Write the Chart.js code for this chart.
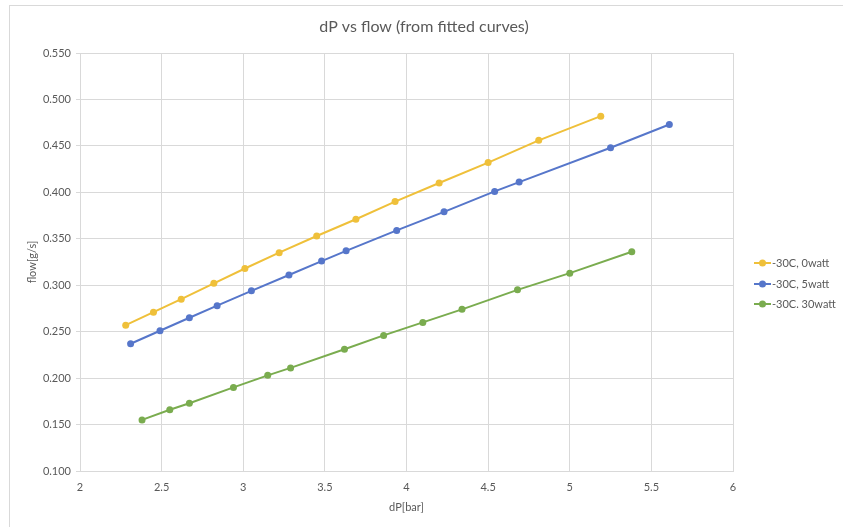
<!DOCTYPE html>
<html>
<head>
<meta charset="utf-8">
<script src="https://cdn.jsdelivr.net/npm/chart.js@4"></script>
<style>
  html, body { margin: 0; padding: 0; background: #fff; }
  #wrap { width: 843px; height: 527px; position: relative; }
</style>
</head>
<body>
<div id="wrap"><canvas id="flowChart"></canvas></div>
<script>
// values
const seriesNames = ['-30C, 0watt', '-30C, 5watt', '-30C. 30watt'];
const seriesColors = ['#EFC03A', '#5676CA', '#7AAC4F'];

const dp0 = [2.28, 2.45, 2.62, 2.82, 3.01, 3.22, 3.45, 3.69, 3.93, 4.20, 4.50, 4.81, 5.19];
const flow0 = [0.257, 0.271, 0.285, 0.302, 0.318, 0.335, 0.353, 0.371, 0.390, 0.410, 0.432, 0.456, 0.482];

const dp5 = [2.31, 2.49, 2.67, 2.84, 3.05, 3.28, 3.48, 3.63, 3.94, 4.23, 4.54, 4.69, 5.25, 5.61];
const flow5 = [0.237, 0.251, 0.265, 0.278, 0.294, 0.311, 0.326, 0.337, 0.359, 0.379, 0.401, 0.411, 0.448, 0.473];

const dp30 = [2.38, 2.55, 2.67, 2.94, 3.15, 3.29, 3.62, 3.86, 4.10, 4.34, 4.68, 5.00, 5.38];
const flow30 = [0.155, 0.166, 0.173, 0.190, 0.203, 0.211, 0.231, 0.246, 0.260, 0.274, 0.295, 0.313, 0.336];

const xTicks = [2, 2.5, 3, 3.5, 4, 4.5, 5, 5.5, 6];
const yTicks = [0.100, 0.150, 0.200, 0.250, 0.300, 0.350, 0.400, 0.450, 0.500, 0.550];

const chartTitle = 'dP vs flow (from fitted curves)';

const toPoints = (xs, ys) => xs.map((x, i) => ({ x: x, y: ys[i] }));
const allX = [dp0, dp5, dp30];
const allY = [flow0, flow5, flow30];

const textColor = '#595959';
const gridColor = '#d9d9d9';
const fontFamily = 'Lato, "Open Sans", sans-serif';

// outer frame, title over the whole frame, legend on the right
const frameAndLegend = {
  id: 'frameAndLegend',
  beforeDraw(chart) {
    const c = chart.ctx;
    c.save();
    c.strokeStyle = gridColor;
    c.lineWidth = 1;
    c.strokeRect(9.5, 5.5, 900, 600);
    c.restore();
  },
  afterDraw(chart) {
    const c = chart.ctx;
    c.save();
    c.font = '16px ' + fontFamily;
    c.fillStyle = textColor;
    c.textAlign = 'center';
    c.textBaseline = 'middle';
    c.fillText(chartTitle, 424, 27);

    const rows = [263, 284, 304];
    c.font = '11px ' + fontFamily;
    c.textAlign = 'left';
    chart.data.datasets.forEach((ds, i) => {
      const y = rows[i];
      c.strokeStyle = ds.borderColor;
      c.lineWidth = 2;
      c.beginPath();
      c.moveTo(754, y);
      c.lineTo(771, y);
      c.stroke();
      c.fillStyle = ds.borderColor;
      c.beginPath();
      c.arc(762.5, y, 3.5, 0, Math.PI * 2);
      c.fill();
      c.fillStyle = textColor;
      c.fillText(ds.label, 772, y + 0.5);
    });
    c.restore();
  }
};

const ctx = document.getElementById('flowChart');

new Chart(ctx, {
  type: 'scatter',
  data: {
    datasets: seriesNames.map((name, i) => ({
      label: name,
      data: toPoints(allX[i], allY[i]),
      showLine: true,
      borderColor: seriesColors[i],
      backgroundColor: seriesColors[i],
      borderWidth: 2,
      pointRadius: 3.5,
      pointBorderWidth: 0,
      tension: 0
    }))
  },
  options: {
    responsive: true,
    maintainAspectRatio: false,
    animation: false,
    layout: { padding: { left: 0, right: 110, top: 53, bottom: 0 } },
    plugins: {
      legend: { display: false },
      tooltip: { enabled: false },
      title: { display: false }
    },
    scales: {
      x: {
        type: 'linear',
        min: 2,
        max: 6,
        afterBuildTicks: (axis) => { axis.ticks = xTicks.map(v => ({ value: v })); },
        afterFit: (axis) => { axis.height = 56; },
        grid: { color: gridColor, drawTicks: false },
        border: { color: gridColor },
        ticks: {
          color: textColor,
          padding: 10,
          maxRotation: 0,
          font: { family: fontFamily, size: 11 },
          callback: (v) => String(v)
        },
        title: {
          display: true,
          text: 'dP[bar]',
          color: textColor,
          font: { family: fontFamily, size: 11 },
          padding: { top: 0, bottom: 13 }
        }
      },
      y: {
        type: 'linear',
        min: 0.1,
        max: 0.55,
        afterBuildTicks: (axis) => { axis.ticks = yTicks.map(v => ({ value: v })); },
        afterFit: (axis) => { axis.width = 80; },
        grid: { color: gridColor, tickLength: 4 },
        border: { color: gridColor },
        ticks: {
          color: textColor,
          padding: 5,
          font: { family: fontFamily, size: 11 },
          callback: (v) => Number(v).toFixed(3)
        },
        title: {
          display: true,
          text: 'flow[g/s]',
          color: textColor,
          font: { family: fontFamily, size: 11 },
          padding: { top: 26, bottom: 0 }
        }
      }
    }
  },
  plugins: [frameAndLegend]
});
</script>
</body>
</html>
